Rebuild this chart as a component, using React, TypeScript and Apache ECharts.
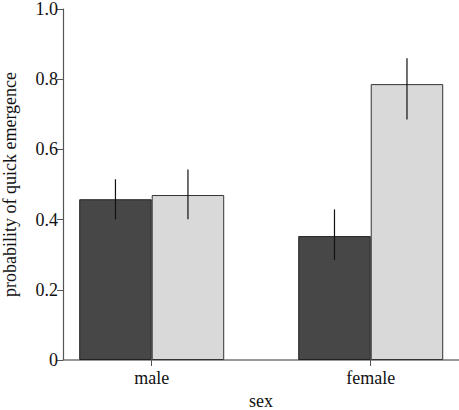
import React, { useEffect, useRef } from "react";
import * as echarts from "echarts";

const categories = ["male", "female"];
const categoryPos = [0, 1];
const darkValues = [0.458, 0.353];
const lightValues = [0.47, 0.786];
const darkLow = [0.401, 0.285];
const darkHigh = [0.515, 0.429];
const lightLow = [0.401, 0.685];
const lightHigh = [0.543, 0.86];

const BAR_W = 72.5;
const FONT = "Liberation Serif";
const FS = 18;

export default function App() {
  const ref = useRef<HTMLDivElement>(null);
  useEffect(() => {
    if (!ref.current) return;
    const chart = echarts.init(ref.current, undefined, { renderer: "svg" });
    const errData: number[][] = [];
    categoryPos.forEach((p, i) => {
      errData.push([p, darkLow[i], darkHigh[i], -1]);
      errData.push([p, lightLow[i], lightHigh[i], 1]);
    });
    chart.setOption({
      animation: false,
      backgroundColor: "#fff",
      textStyle: { fontFamily: FONT },
      grid: {
        left: 63,
        right: 0,
        top: 9,
        bottom: 50,
        containLabel: false,
        outerBoundsMode: "none",
      },
      xAxis: {
        type: "value",
        min: -0.405,
        max: 1.403,
        name: "sex",
        nameLocation: "middle",
        nameGap: 28,
        nameTextStyle: { fontFamily: FONT, fontSize: FS, color: "#111" },
        axisLine: { show: true, onZero: false, lineStyle: { color: "#777", width: 1.5 } },
        axisTick: {
          show: true,
          customValues: categoryPos,
          length: 6,
          lineStyle: { color: "#555", width: 1 },
        },
        axisLabel: {
          customValues: categoryPos,
          formatter: (v: number) => categories[Math.round(v)] ?? "",
          fontFamily: FONT,
          fontSize: FS,
          color: "#111",
          margin: 9,
        },
        splitLine: { show: false },
      },
      yAxis: {
        type: "value",
        min: 0,
        max: 1,
        interval: 0.2,
        name: "probability of quick emergence",
        nameLocation: "middle",
        nameGap: 44,
        nameTextStyle: { fontFamily: FONT, fontSize: FS, color: "#111" },
        axisLine: { show: true, onZero: false, lineStyle: { color: "#555", width: 1.2 } },
        axisTick: { show: true, length: 6, lineStyle: { color: "#555" } },
        axisLabel: {
          fontFamily: FONT,
          fontSize: FS,
          color: "#111",
          margin: 5,
          formatter: (v: number) => (v === 0 ? "0" : v.toFixed(1)),
        },
        splitLine: { show: false },
      },
      series: [
        {
          type: "bar",
          data: categoryPos.map((p, i) => [p, darkValues[i]]),
          barWidth: BAR_W,
          barGap: "0%",
          itemStyle: { color: "#474747", borderColor: "#222", borderWidth: 1 },
        },
        {
          type: "bar",
          data: categoryPos.map((p, i) => [p, lightValues[i]]),
          barWidth: BAR_W,
          barGap: "0%",
          itemStyle: { color: "#d9d9d9", borderColor: "#333", borderWidth: 1 },
        },
        {
          type: "custom",
          data: errData,
          z: 10,
          renderItem: (_params: any, api: any) => {
            const x = api.value(0);
            const lo = api.coord([x, api.value(1)]);
            const hi = api.coord([x, api.value(2)]);
            const off = (api.value(3) * BAR_W) / 2;
            return {
              type: "line",
              shape: { x1: lo[0] + off, y1: lo[1], x2: hi[0] + off, y2: hi[1] },
              style: { stroke: "#111", lineWidth: 1.2 },
            };
          },
        },
      ],
    });
    return () => chart.dispose();
  }, []);
  return (
    <div
      ref={ref}
      style={{ position: "fixed", left: 0, top: 0, width: 459, height: 410 }}
    />
  );
}
